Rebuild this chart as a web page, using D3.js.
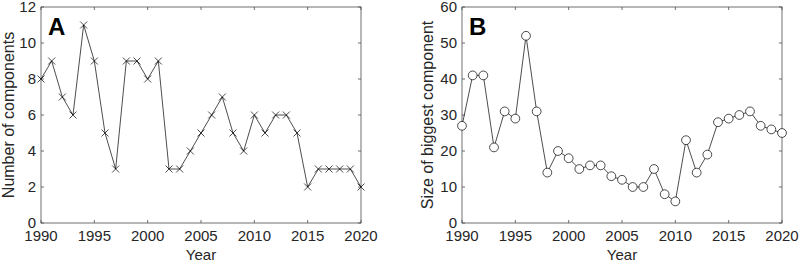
<!DOCTYPE html>
<html>
<head>
<meta charset="utf-8">
<script src="https://cdn.jsdelivr.net/npm/d3@7"></script>
<style>
  body { margin: 0; background: #fff; }
  svg text { font-family: "Liberation Sans", Arial, sans-serif; fill: #262626; }
</style>
</head>
<body>
<svg id="drawing_region"></svg>
<script>
const years = d3.range(1990, 2021);
const numComponents = [8, 9, 7, 6, 11, 9, 5, 3, 9, 9, 8, 9, 3, 3, 4, 5, 6, 7, 5, 4, 6, 5, 6, 6, 5, 2, 3, 3, 3, 3, 2];
const biggestSize = [27, 41, 41, 21, 31, 29, 52, 31, 14, 20, 18, 15, 16, 16, 13, 12, 10, 10, 15, 8, 6, 23, 14, 19, 28, 29, 30, 31, 27, 26, 25];
const xTicks = [1990, 1995, 2000, 2005, 2010, 2015, 2020];
const yTicksA = [0, 2, 4, 6, 8, 10, 12];
const yTicksB = [0, 10, 20, 30, 40, 50, 60];

const svg = d3.select('#drawing_region')
    .attr('width', 800)
    .attr('height', 265);

function panel(config) {
    const g = svg.append('g')
        .attr('transform', `translate(${config.left}, ${config.top})`);
    const w = config.width, h = config.height;

    const xscale = d3.scaleLinear().domain([1990, 2020]).range([0, w]);
    const yscale = d3.scaleLinear().domain(config.ydomain).range([h, 0]);

    const axisColor = '#4d4d4d';
    const tick = 3;

    // box
    g.append('rect')
        .attr('x', 0).attr('y', 0)
        .attr('width', w).attr('height', h)
        .attr('fill', 'none')
        .attr('stroke', axisColor)
        .attr('stroke-width', 0.8);

    // inward ticks on all 4 sides (matlab box style)
    xTicks.forEach(t => {
        const x = xscale(t);
        g.append('line').attr('x1', x).attr('x2', x).attr('y1', h).attr('y2', h - tick)
            .attr('stroke', axisColor).attr('stroke-width', 0.8);
        g.append('line').attr('x1', x).attr('x2', x).attr('y1', 0).attr('y2', tick)
            .attr('stroke', axisColor).attr('stroke-width', 0.8);
        g.append('text')
            .attr('x', x).attr('y', h + 18)
            .attr('text-anchor', 'middle')
            .style('font-size', '15px')
            .text(t);
    });
    config.yticks.forEach(t => {
        const y = yscale(t);
        g.append('line').attr('x1', 0).attr('x2', tick).attr('y1', y).attr('y2', y)
            .attr('stroke', axisColor).attr('stroke-width', 0.8);
        g.append('line').attr('x1', w).attr('x2', w - tick).attr('y1', y).attr('y2', y)
            .attr('stroke', axisColor).attr('stroke-width', 0.8);
        g.append('text')
            .attr('x', -5).attr('y', y + 5)
            .attr('text-anchor', 'end')
            .style('font-size', '15px')
            .text(t);
    });

    const line = d3.line()
        .x((d, i) => xscale(years[i]))
        .y(d => yscale(d));

    g.append('path')
        .attr('d', line(config.values))
        .attr('fill', 'none')
        .attr('stroke', '#000')
        .attr('stroke-width', 0.7);

    if (config.marker === 'x') {
        const s = 3.5;
        g.selectAll('path.mark')
            .data(config.values)
            .enter()
            .append('path')
            .attr('class', 'mark')
            .attr('d', (d, i) => {
                const x = xscale(years[i]), y = yscale(d);
                return `M${x - s},${y - s}L${x + s},${y + s}M${x - s},${y + s}L${x + s},${y - s}`;
            })
            .attr('stroke', '#000')
            .attr('stroke-width', 0.7);
    } else {
        g.selectAll('circle')
            .data(config.values)
            .enter()
            .append('circle')
            .attr('cx', (d, i) => xscale(years[i]))
            .attr('cy', d => yscale(d))
            .attr('r', 4.4)
            .attr('fill', '#fff')
            .attr('stroke', '#000')
            .attr('stroke-width', 0.7);
    }

    // panel letter
    g.append('text')
        .attr('x', 7).attr('y', 28)
        .style('font-size', '24px')
        .style('font-weight', 'bold')
        .style('fill', '#000')
        .text(config.letter);

    // axis labels
    g.append('text')
        .attr('x', w / 2).attr('y', h + 37)
        .attr('text-anchor', 'middle')
        .style('font-size', '15px')
        .text('Year');

    g.append('text')
        .attr('transform', `translate(${config.ylabelX}, ${h / 2}) rotate(-90)`)
        .attr('text-anchor', 'middle')
        .style('font-size', '16px')
        .text(config.ylabel);
}

panel({
    left: 41, top: 7, width: 320, height: 216,
    ydomain: [0, 12], yticks: yTicksA,
    values: numComponents, marker: 'x',
    letter: 'A', ylabel: 'Number of components', ylabelX: -27
});

panel({
    left: 462, top: 7, width: 320, height: 216,
    ydomain: [0, 60], yticks: yTicksB,
    values: biggestSize, marker: 'o',
    letter: 'B', ylabel: 'Size of biggest component', ylabelX: -29
});
</script>
</body>
</html>
